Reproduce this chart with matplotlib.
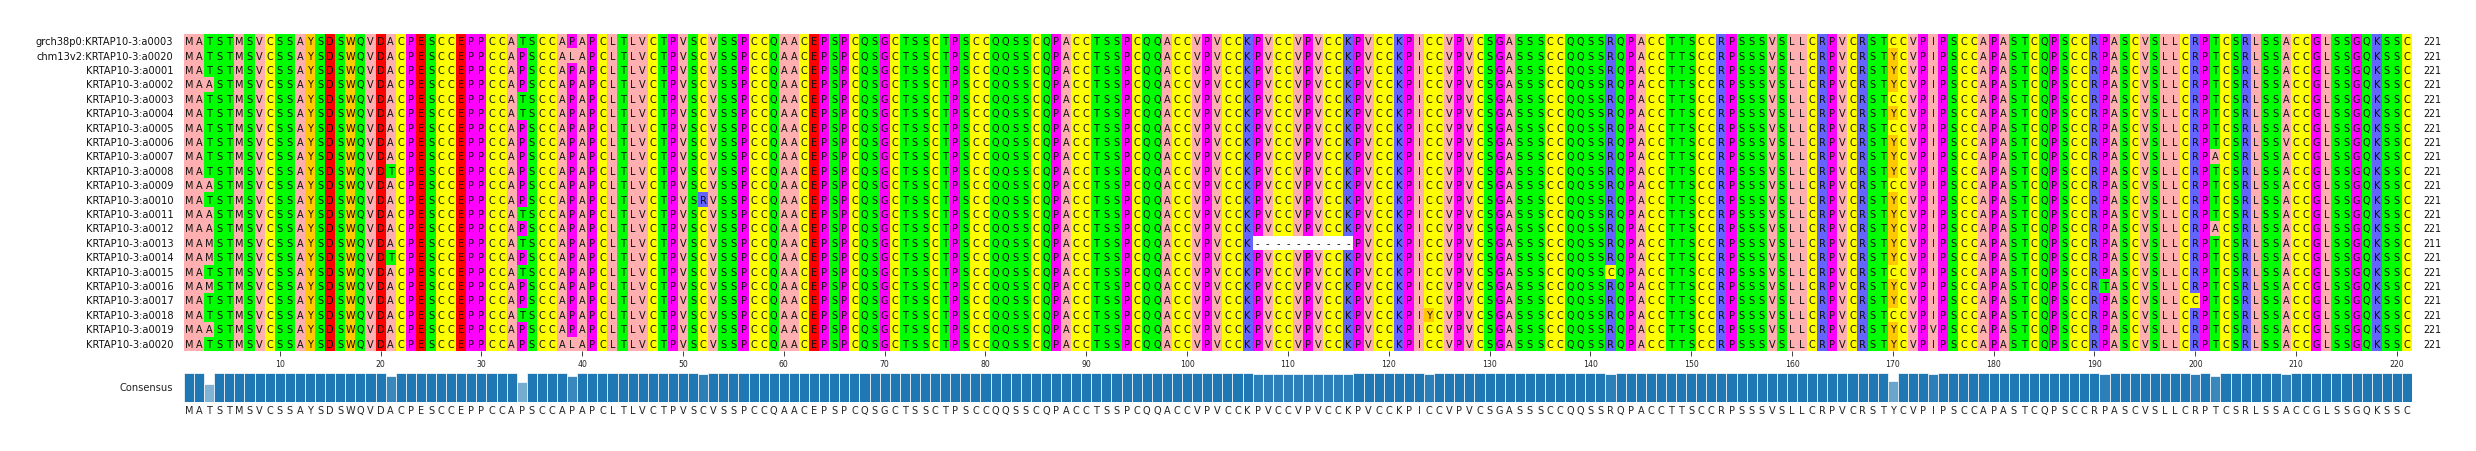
import numpy as np
import matplotlib
matplotlib.use("Agg")
import matplotlib.pyplot as plt
from matplotlib.colors import to_rgb, to_rgba
from collections import Counter

row_names = ["grch38p0:KRTAP10-3:a0003", "chm13v2:KRTAP10-3:a0020"] + [
    "KRTAP10-3:a%04d" % i for i in range(1, 21)
]
base_seq = (
    "MATSTMSVCSSAYSDSWQVDACPESCCEPPCCAPSCCAPAPCLTLVCTPVSCVSSPCCQAACEPSPCQSGCTSSCTPSCC"
    "QQSSCQPACCTSSPCQQACCVPVCCKPVCCVPVCCKPVCCKPICCVPVCSGASSSCCQQSSRQPACCTTSCCRPSSSVSL"
    "LCRPVCRSTYCVPIPSCCAPASTCQPSCCRPASCVSLLCRPTCSRLSSACCGLSSGQKSSC"
)
# (row, 1-based column, residue) differences from base_seq
pos3_A = [3, 10, 12, 13, 20]
pos3_M = [14, 15, 17]
pos21_T = [9, 15]
pos34_T = [0, 4, 5, 12, 14, 16, 19]
pos39_L = [1, 21]
pos170_C = [0, 4, 6, 10, 16, 19]
pos202_A = [8, 13]
single_variants = [
    (11, 52, "R"), (18, 200, "C"), (16, 142, "C"), (19, 124, "Y"),
    (17, 191, "T"), (20, 174, "V"), (7, 209, "V"),
]
gap_row = 14
gap_columns = list(range(107, 117))

scheme = {
    "#ffafaf": "AILMV", "#ffc800": "FWY", "#6464ff": "KRH", "#ff0000": "DE",
    "#00ff00": "STNQ", "#ff00ff": "PG", "#ffff00": "C", "#ffffff": "-",
}

seqs = [list(base_seq) for _ in row_names]
for rows, col, res in [(pos3_A, 3, "A"), (pos3_M, 3, "M"), (pos21_T, 21, "T"),
                       (pos34_T, 34, "T"), (pos39_L, 39, "L"),
                       (pos170_C, 170, "C"), (pos202_A, 202, "A")]:
    for r in rows:
        seqs[r][col - 1] = res
for r, col, res in single_variants:
    seqs[r][col - 1] = res
for col in gap_columns:
    seqs[gap_row][col - 1] = "-"

n_rows, n_cols = len(seqs), len(base_seq)
color_of = {aa: to_rgb(c) for c, aas in scheme.items() for aa in aas}
img = np.array([[color_of[a] for a in s] for s in seqs])

W, H = 2476, 452
def axes_px(x0, x1, y0, y1):
    return fig.add_axes([x0 / W, 1 - y1 / H, (x1 - x0) / W, (y1 - y0) / H])

fig = plt.figure(figsize=(W / 100, H / 100), dpi=100)
X0, X1 = 184, 2412

ax = axes_px(X0, X1, 35, 351.8)
ax.imshow(img, extent=(0, n_cols, n_rows, 0), aspect="auto", interpolation="nearest")
for r, s in enumerate(seqs):
    for c, a in enumerate(s):
        ax.text(c + 0.5, r + 0.5, a, ha="center", va="center", fontsize=7, color="#111111")
    ax.text(-1.05, r + 0.5, row_names[r], ha="right", va="center", fontsize=7.1, color="#111111")
    ax.text(n_cols + 1.1, r + 0.5, str(sum(x != "-" for x in s)), ha="left", va="center",
            fontsize=6.9, color="#111111")
for sp in ax.spines.values():
    sp.set_visible(False)
ax.set_yticks([])
ticks = np.arange(10, n_cols + 1, 10)
ax.set_xticks(ticks - 0.5)
ax.set_xticklabels([str(t) for t in ticks], fontsize=5.6, color="#222222")
ax.tick_params(axis="x", length=3.6, width=0.6, pad=2.5, color="#222222")
ax.set_xlim(0, n_cols)
ax.set_ylim(n_rows, 0)

consensus, identity = [], []
for c in range(n_cols):
    top, k = Counter(s[c] for s in seqs).most_common(1)[0]
    consensus.append(top)
    identity.append(100 * k / n_rows)

cax = axes_px(X0, X1, 374, 403)
cols = [to_rgba("#1f77b4", (v / 100) ** 1.3) for v in identity]
cax.bar(np.arange(n_cols) + 0.5, identity, width=1.0, color=cols,
        edgecolor="white", linewidth=0.5)
cax.set_xlim(0, n_cols)
cax.set_ylim(0, 100)
for sp in cax.spines.values():
    sp.set_visible(False)
cax.set_yticks([])
cax.set_xticks(np.arange(n_cols) + 0.5)
cax.set_xticklabels(consensus, fontsize=7, color="#222222")
cax.tick_params(axis="x", length=0, pad=2.5)
cax.text(-1.05, 50, "Consensus", ha="right", va="center", fontsize=7.1, color="#222222")

fig.savefig("out.png", dpi=100)
